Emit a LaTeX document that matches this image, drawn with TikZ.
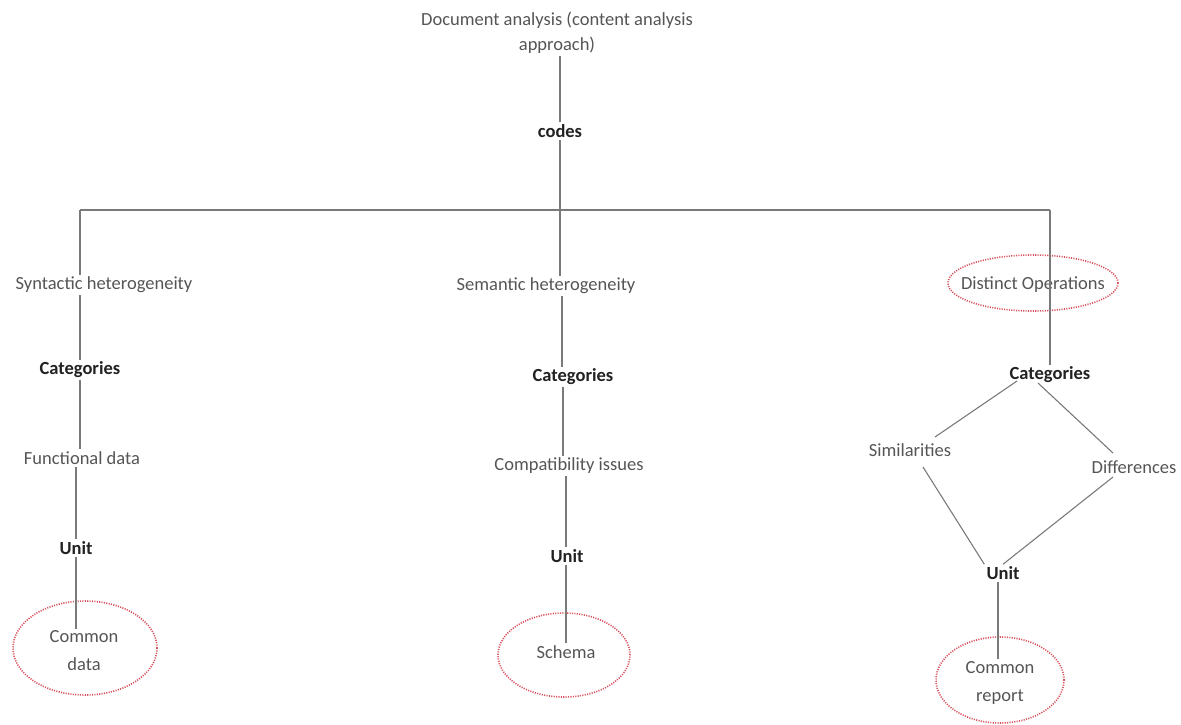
\documentclass[tikz,border=0pt]{standalone}
\usepackage{fontspec}
\setmainfont{Carlito}
\usetikzlibrary{shapes.geometric}
\definecolor{txt}{HTML}{555555}
\definecolor{bold}{HTML}{222222}
\definecolor{wire}{HTML}{7A7A7A}
\definecolor{ring}{HTML}{D8505C}
\begin{document}
\begin{tikzpicture}[x=1pt,y=-1pt,
  lbl/.style={font=\fontsize{18.5}{25}\selectfont, text=txt, inner sep=2pt, align=center},
  hdr/.style={font=\fontsize{18.5}{25}\selectfont\bfseries, text=bold, inner sep=2pt},
  conn/.style={draw=wire, line width=1.1pt},
  hilite/.style={draw=ring, ellipse, line width=1.6pt, dash pattern=on 1.1pt off 1.3pt, minimum width=#1},
]
\useasboundingbox (0,0) rectangle (1181,724);

% top of the tree
\node[lbl] (doc) at (557,33) {Document analysis (content analysis\\approach)};
\node[hdr] (codes) at (560,131) {codes};
\coordinate (barL) at (80,210);
\coordinate (barM) at (560,210);
\coordinate (barR) at (1050,210);
\draw[conn] (doc.south -| codes) -- (codes.north);
\draw[conn] (codes.south) -- (barM);
\draw[conn] (barL) -- (barR);

% left branch
\node[lbl] (syn) at (104,285) {Syntactic heterogeneity};
\node[hdr] (cat1) at (80,370) {Categories};
\node[lbl] (fun) at (82,458) {Functional data};
\node[hdr] (unit1) at (76,548) {Unit};
\node[hilite=144pt, minimum height=94pt] (ell1) at (85,648) {};
\node[lbl, text width=80pt, font=\fontsize{18.5}{28}\selectfont] (com1) at (84,651) {Common\\data};
\draw[conn] (barL) -- (barL |- syn.north);
\draw[conn] (syn.south -| cat1) -- (cat1.north);
\draw[conn] (cat1.south) -- (cat1.south |- fun.north);
\draw[conn] (fun.south -| unit1) -- (unit1.north);
\draw[conn] (unit1.south) -- (unit1.south |- com1.north);

% middle branch
\node[lbl] (sem) at (546,286) {Semantic heterogeneity};
\node[hdr] (cat2) at (573,377) {Categories};
\node[lbl] (cmp) at (569,466) {Compatibility issues};
\node[hdr] (unit2) at (567,556) {Unit};
\node[hilite=132pt, minimum height=84pt] (ell2) at (564,655) {};
\node[lbl] (sch) at (566,652) {Schema};
\draw[conn] (barM) -- (barM |- sem.north);
\draw[conn] (sem.south -| 562,0) -- (cat2.north -| 562,0);
\draw[conn] (cat2.south -| 563,0) -- (cmp.north -| 563,0);
\draw[conn] (cmp.south -| 566,0) -- (unit2.north -| 566,0);
\draw[conn] (unit2.south -| 566,0) -- (sch.north -| 566,0);

% right branch
\node[hilite=170pt, minimum height=56pt] (ell3) at (1033,283) {};
\node[lbl] (dis) at (1033,285) {Distinct Operations};
\node[hdr] (cat3) at (1050,375) {Categories};
\node[lbl] (sim) at (910,450) {Similarities};
\node[lbl, inner sep=0pt] (dif) at (1134,467) {Differences};
\node[hdr] (unit3) at (1003,573) {Unit};
\node[hilite=128pt, minimum height=86pt] (ell3b) at (1000,680) {};
\node[lbl, text width=80pt, font=\fontsize{18.5}{28}\selectfont] (com3) at (1000,683) {Common\\report};
\draw[conn] (barR) -- (cat3.north -| barR);
\coordinate (catSW) at (1017,381);
\coordinate (catSE) at (1038,383);
\coordinate (simNE) at (935,437);
\coordinate (simS) at (923,467);
\coordinate (difN) at (1113,453);
\coordinate (difS) at (1113,477);
\draw[conn] (catSW) -- (simNE);
\draw[conn] (catSE) -- (difN);
\draw[conn] (simS) -- (unit3.north west);
\draw[conn] (difS) -- (unit3.north);
\draw[conn] (unit3.south -| 998,0) -- (com3.north -| 998,0);
\end{tikzpicture}
\end{document}
